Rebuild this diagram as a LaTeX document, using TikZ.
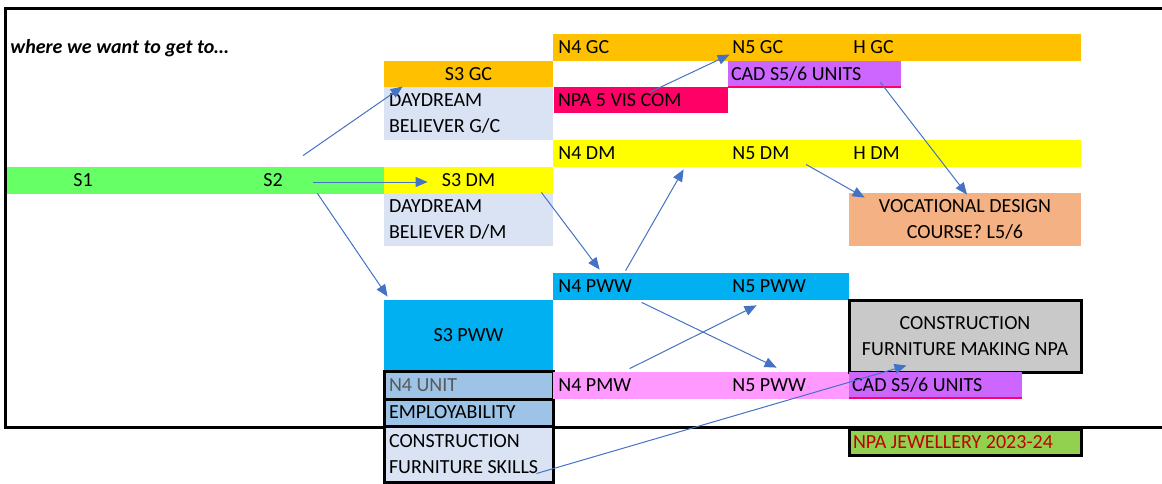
\documentclass[tikz,border=0pt]{standalone}
\usepackage{fontspec}
\setmainfont{Carlito}
\usepackage{tikz}
\usetikzlibrary{arrows.meta}
\usetikzlibrary{calc}
\usepackage{xcolor}
\definecolor{sGreen}{HTML}{66FF66}
\definecolor{gcOrange}{HTML}{FFC000}
\definecolor{paleBlue}{HTML}{DAE3F3}
\definecolor{visPink}{HTML}{FF0066}
\definecolor{cadPurple}{HTML}{CC66FF}
\definecolor{dmYellow}{HTML}{FFFF00}
\definecolor{vocSalmon}{HTML}{F4B183}
\definecolor{pwwCyan}{HTML}{00B0F0}
\definecolor{unitBlue}{HTML}{9DC3E6}
\definecolor{unitGrey}{HTML}{595959}
\definecolor{pmwPink}{HTML}{FF99FF}
\definecolor{npaGrey}{HTML}{C9C9C9}
\definecolor{jewelGreen}{HTML}{92D050}
\definecolor{jewelRed}{HTML}{C00000}
\definecolor{arrowBlue}{HTML}{4472C4}

\begin{document}
\begin{tikzpicture}[x=0.5pt,y=-0.5pt,
    font=\fontsize{10}{13}\selectfont,
    box/.style={inner sep=0pt, minimum height=13.5pt},
    lefttext/.style={align=flush left, text width=#1},
    lbl/.style={anchor=west, inner sep=0pt, text height=6.3pt, text depth=0pt},
    heavy/.style={draw=black, line width=1.5pt},
    cadline/.style={draw=visPink, line width=1pt},
    arr/.style={draw=arrowBlue, line width=0.5pt, -{Triangle[length=6pt,width=5pt]}}]
\path[use as bounding box] (0,0) rectangle (1162,483);
\draw[line width=1.5pt] (1162,8) -- (5,8) -- (5,427) -- (1162,427);
\node[lbl, font=\fontsize{10}{13}\selectfont\bfseries\itshape] (title) at (10,47) {where we want to get to…};

\node[box, fill=sGreen, minimum width=188.5pt] (sbar) at (195.5,180.5) {};
\node[lbl] (s1) at (73,180.5) {S1};
\node[lbl] (s2) at (263,180.5) {S2};

\node[box, fill=gcOrange, minimum width=84.5pt, minimum height=13pt] (s3gc) at (468.5,74) {S3 GC};
\node[box, fill=paleBlue, minimum height=26.5pt, lefttext=79.5pt, inner xsep=2.5pt] (ddgc) at (468.5,113.5) {DAYDREAM\\BELIEVER G/C};
\node[box, fill=gcOrange, minimum width=264pt] (gcbar) at (817,47.5) {};
\node[lbl] (n4gc) at (558,47.5) {N4 GC};
\node[lbl] (n5gc) at (732,47.5) {N5 GC};
\node[lbl] (hgc) at (853,47.5) {H GC};
\node[box, fill=cadPurple, minimum height=13pt, lefttext=83.5pt, inner xsep=1.5pt] (cad1) at (814.5,74) {CAD S5/6 UNITS};
\draw[cadline] (cad1.south west) -- (cad1.south east);
\node[box, fill=visPink, minimum height=13pt, lefttext=83pt, inner xsep=2pt] (npavis) at (641,100) {NPA 5 VIS COM};

\node[box, fill=dmYellow, minimum width=264pt] (dmbar) at (817,153.5) {};
\node[lbl] (n4dm) at (558,153.5) {N4 DM};
\node[lbl] (n5dm) at (732,153.5) {N5 DM};
\node[lbl] (hdm) at (853,153.5) {H DM};
\node[box, fill=dmYellow, minimum width=84.5pt] (s3dm) at (468.5,180.5) {S3 DM};
\node[box, fill=paleBlue, minimum height=26pt, lefttext=79.5pt, inner xsep=2.5pt] (dddm) at (468.5,220) {DAYDREAM\\BELIEVER D/M};
\node[box, fill=vocSalmon, minimum width=116pt, minimum height=26.5pt, align=center] (voc) at (965,219.5) {VOCATIONAL DESIGN\\COURSE? L5/6};

\node[box, fill=pwwCyan, minimum width=148pt] (pwwbar) at (701,286.5) {};
\node[lbl] (n4pww) at (558,286.5) {N4 PWW};
\node[lbl] (n5pww) at (732,286.5) {N5 PWW};
\node[box, fill=pwwCyan, minimum width=84.5pt, minimum height=35.5pt] (s3pww) at (468.5,335.5) {S3 PWW};
\node[box, fill=unitBlue, heavy, minimum height=14pt, lefttext=79.5pt, inner xsep=2.5pt, text=unitGrey] (n4unit) at (468.5,385) {N4 UNIT};
\node[box, fill=unitBlue, heavy, lefttext=79.5pt, inner xsep=2.5pt] (employ) at (468.5,412.5) {EMPLOYABILITY};
\node[box, fill=paleBlue, heavy, minimum height=28pt, lefttext=79.5pt, inner xsep=2.5pt] (cfs) at (468.5,454) {CONSTRUCTION\\FURNITURE SKILLS};

\node[box, fill=pmwPink, minimum width=148pt] (pmwbar) at (701,385.5) {};
\node[lbl] (n4pmw) at (558,385.5) {N4 PMW};
\node[lbl] (n5pwwb) at (732,385.5) {N5 PWW};
\node[box, fill=npaGrey, heavy, minimum width=116pt, minimum height=36pt, align=center] (cfm) at (965,336) {CONSTRUCTION\\FURNITURE MAKING NPA};
\node[box, fill=cadPurple, minimum height=13pt, lefttext=83.5pt, inner xsep=1.5pt] (cad2) at (935.5,385) {CAD S5/6 UNITS};
\draw[cadline] (cad2.south west) -- (cad2.south east);
\node[box, fill=jewelGreen, heavy, minimum height=13pt, lefttext=112pt, inner xsep=2pt, text=jewelRed] (jewel) at (965,442) {NPA JEWELLERY 2023-24};

\draw[arr] ($(sbar.north)+(107.5,-11)$) -- ($(ddgc.north west)+(19,0)$);
\draw[arr] ($(sbar.east)+(-71,1.5)$) -- ($(s3dm.west)+(44,1.5)$);
\draw[arr] ($(sbar.south east)+(-67,-1)$) -- ($(s3pww.north west)+(4,-3)$);
\draw[arr] ($(s3dm.south east)+(-12,-2)$) -- ($(pwwbar.north west)+(47,-3)$);
\draw[arr] ($(pwwbar.north west)+(73,-2)$) -- ($(dmbar.south west)+(131,2)$);
\draw[arr] ($(npavis.north)+(8,6)$) -- ($(cad1.north west)+(2,-6)$);
\draw[arr] ($(cad1.south east)+(-21,-5)$) -- ($(voc.north)+(2,2)$);
\draw[arr] ($(dmbar.south)+(-11,-3)$) -- ($(voc.north west)+(16,5)$);
\draw[arr] ($(pwwbar.south west)+(89,2)$) -- ($(pmwbar.north west)+(224,-4)$);
\draw[arr] ($(pmwbar.north west)+(77,-3)$) -- ($(pwwbar.south west)+(204,5)$);
\draw[arr] ($(cfs.south east)+(-18,-10)$) -- ($(cfm.south west)+(59,-8)$);
\end{tikzpicture}
\end{document}
